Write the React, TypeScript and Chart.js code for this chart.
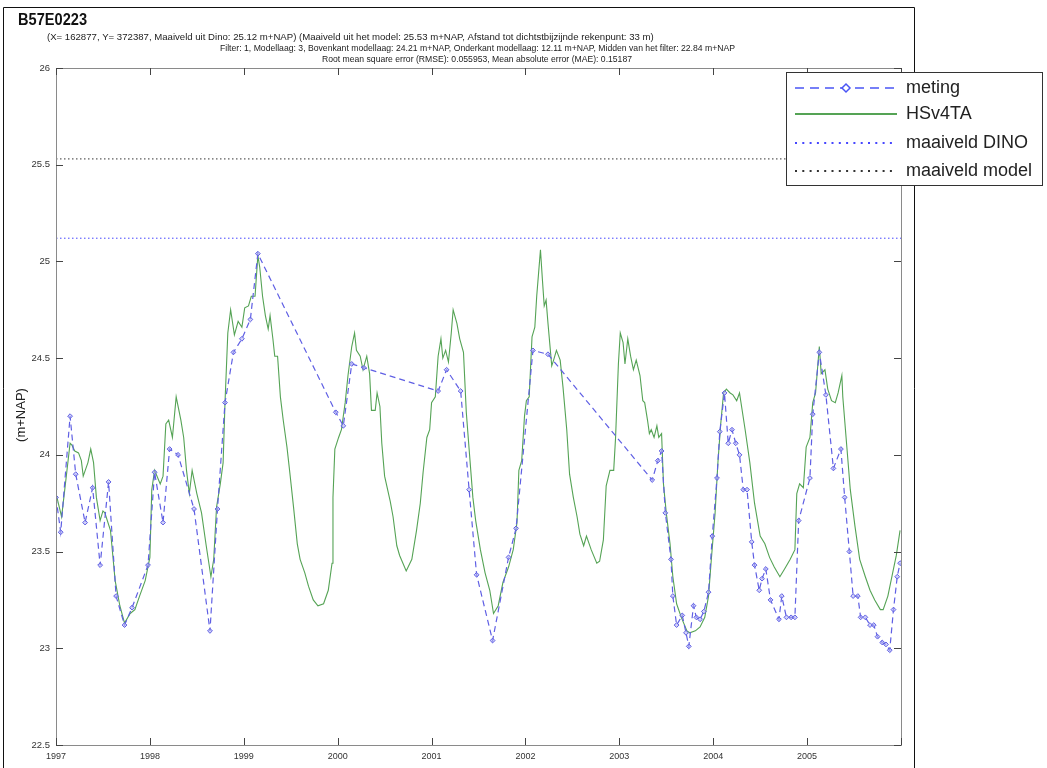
import React, { useEffect, useRef } from 'react';
import { Chart, registerables } from 'chart.js';

Chart.register(...registerables);

// ---------- data ----------
const titleMain = 'B57E0223';
const subtitleLines = [
  '(X= 162877, Y= 372387, Maaiveld uit Dino: 25.12 m+NAP) (Maaiveld uit het model: 25.53 m+NAP, Afstand tot dichtstbijzijnde rekenpunt: 33 m)',
  'Filter: 1, Modellaag: 3, Bovenkant modellaag: 24.21 m+NAP, Onderkant modellaag: 12.11 m+NAP, Midden van het filter: 22.84 m+NAP',
  'Root mean square error (RMSE): 0.055953, Mean absolute error (MAE): 0.15187',
];
const yAxisLabel = '(m+NAP)';
const legendLabels = ['meting', 'HSv4TA', 'maaiveld DINO', 'maaiveld model'];

const xTickYears = [1997, 1998, 1999, 2000, 2001, 2002, 2003, 2004, 2005];
const yTickValues = [22.5, 23, 23.5, 24, 24.5, 25, 25.5, 26];

const maaiveldDino = 25.12;
const maaiveldModel = 25.53;

const meetYears = [
  1997.0, 1997.05, 1997.15, 1997.21, 1997.31, 1997.39, 1997.47, 1997.56, 1997.64, 1997.73,
  1997.81, 1997.98, 1998.05, 1998.14, 1998.21, 1998.3, 1998.47, 1998.64, 1998.72, 1998.8,
  1998.89, 1998.98, 1999.07, 1999.15, 1999.98, 2000.06, 2000.15, 2000.28, 2001.07, 2001.16,
  2001.31, 2001.4, 2001.48, 2001.65, 2001.82, 2001.9, 2002.08, 2002.24, 2003.35, 2003.41,
  2003.45, 2003.49, 2003.55, 2003.57, 2003.61, 2003.67, 2003.71, 2003.74, 2003.79, 2003.82,
  2003.86, 2003.9, 2003.95, 2003.99, 2004.04, 2004.07, 2004.12, 2004.16, 2004.2, 2004.24,
  2004.28, 2004.32, 2004.36, 2004.41, 2004.44, 2004.49, 2004.52, 2004.56, 2004.61, 2004.7,
  2004.73, 2004.78, 2004.83, 2004.87, 2004.91, 2005.03, 2005.06, 2005.13, 2005.2, 2005.28,
  2005.36, 2005.4, 2005.45, 2005.49, 2005.54, 2005.57, 2005.62, 2005.67, 2005.71, 2005.75,
  2005.8, 2005.84, 2005.88, 2005.92, 2005.96, 2005.99,
];
const meetValues = [
  23.78, 23.6, 24.2, 23.9, 23.65, 23.83, 23.43, 23.86, 23.27, 23.12,
  23.21, 23.43, 23.91, 23.65, 24.03, 24.0, 23.72, 23.09, 23.72, 24.27,
  24.53, 24.6, 24.7, 25.04, 24.22, 24.15, 24.47, 24.45, 24.33, 24.44,
  24.33, 23.82, 23.38, 23.04, 23.47, 23.62, 24.54, 24.52, 23.87, 23.97,
  24.02, 23.7, 23.46, 23.27, 23.12, 23.17, 23.08, 23.01, 23.22, 23.16,
  23.15, 23.19, 23.29, 23.58, 23.88, 24.12, 24.32, 24.06, 24.13, 24.06,
  24.0, 23.82, 23.82, 23.55, 23.43, 23.3, 23.36, 23.41, 23.25, 23.15,
  23.27, 23.16, 23.16, 23.16, 23.66, 23.88, 24.21, 24.53, 24.31, 23.93,
  24.03, 23.78, 23.5, 23.27, 23.27, 23.16, 23.16, 23.12, 23.12, 23.06,
  23.03, 23.02, 22.99, 23.2, 23.37, 23.44,
];

const modelYears = [
  1997.0, 1997.04, 1997.06, 1997.15, 1997.17, 1997.2, 1997.24, 1997.27, 1997.29, 1997.34,
  1997.37, 1997.4, 1997.43, 1997.47, 1997.5, 1997.52, 1997.58, 1997.63, 1997.68, 1997.73,
  1997.79, 1997.84, 1997.89, 1997.95, 1998.0, 1998.02, 1998.05, 1998.11, 1998.14, 1998.17,
  1998.2, 1998.24, 1998.28, 1998.33, 1998.36, 1998.39, 1998.42, 1998.45, 1998.5, 1998.55,
  1998.6, 1998.65, 1998.68, 1998.71, 1998.75, 1998.78, 1998.8, 1998.83, 1998.86, 1998.9,
  1998.94, 1998.98, 1999.01, 1999.05, 1999.08, 1999.12, 1999.15, 1999.17, 1999.2, 1999.23,
  1999.26, 1999.28, 1999.31, 1999.33, 1999.36, 1999.39, 1999.42, 1999.46, 1999.49, 1999.53,
  1999.57, 1999.6, 1999.65, 1999.69, 1999.74, 1999.79, 1999.85, 1999.9, 1999.94, 1999.95,
  1999.97, 2000.01, 2000.04, 2000.08, 2000.11, 2000.15, 2000.18, 2000.2, 2000.24, 2000.27,
  2000.31, 2000.34, 2000.36, 2000.4, 2000.42, 2000.45, 2000.47, 2000.5, 2000.56, 2000.59,
  2000.63, 2000.66, 2000.73, 2000.79, 2000.84, 2000.88, 2000.91, 2000.95, 2000.98, 2001.0,
  2001.04, 2001.07, 2001.1, 2001.12, 2001.15, 2001.18, 2001.21, 2001.23, 2001.27, 2001.3,
  2001.34, 2001.37, 2001.4, 2001.44, 2001.47, 2001.52, 2001.57, 2001.62, 2001.66, 2001.71,
  2001.76, 2001.82, 2001.87, 2001.91, 2001.93, 2001.96, 2001.99, 2002.01, 2002.04, 2002.07,
  2002.1, 2002.12, 2002.14, 2002.16, 2002.18, 2002.2, 2002.22, 2002.24, 2002.28, 2002.3,
  2002.33, 2002.37, 2002.4, 2002.44, 2002.47, 2002.51, 2002.55, 2002.58, 2002.62, 2002.65,
  2002.7, 2002.76, 2002.79, 2002.83, 2002.86, 2002.9, 2002.94, 2002.96, 2002.99, 2003.01,
  2003.04, 2003.06, 2003.09, 2003.12, 2003.15, 2003.18, 2003.22, 2003.25, 2003.27, 2003.3,
  2003.32, 2003.34, 2003.37, 2003.4, 2003.42, 2003.45, 2003.47, 2003.5, 2003.54, 2003.57,
  2003.61, 2003.66, 2003.72, 2003.75, 2003.81, 2003.86, 2003.91, 2003.95, 2003.98, 2004.02,
  2004.05, 2004.08, 2004.11, 2004.14, 2004.18, 2004.21, 2004.25, 2004.28, 2004.34, 2004.39,
  2004.44, 2004.5, 2004.55, 2004.6, 2004.65, 2004.71, 2004.76, 2004.82, 2004.87, 2004.89,
  2004.92, 2004.96, 2004.99, 2005.03, 2005.06, 2005.09, 2005.11, 2005.13, 2005.15, 2005.19,
  2005.22, 2005.26, 2005.3, 2005.33, 2005.37, 2005.38, 2005.42, 2005.46, 2005.51, 2005.56,
  2005.62, 2005.67, 2005.72, 2005.78, 2005.81, 2005.86, 2005.92, 2005.95, 2005.99,
];
const modelValues = [
  23.8, 23.72, 23.68, 24.06, 24.05, 24.02, 24.01, 23.97, 23.89, 23.96,
  24.03, 23.96, 23.78, 23.66, 23.71, 23.7, 23.61, 23.35, 23.22, 23.13,
  23.18, 23.2, 23.27, 23.35, 23.47, 23.82, 23.92, 23.85, 23.89, 24.16,
  24.18, 24.09, 24.3, 24.18, 24.09, 23.92, 23.8, 23.92, 23.8, 23.7,
  23.53, 23.37, 23.46, 23.73, 23.85, 23.96, 24.27, 24.63, 24.75, 24.62,
  24.69, 24.66, 24.76, 24.77, 24.82, 24.82, 25.03, 24.97, 24.82, 24.72,
  24.65, 24.72, 24.6, 24.51, 24.51, 24.3, 24.18, 24.04, 23.91, 23.73,
  23.54, 23.46, 23.39, 23.32, 23.25, 23.22, 23.23, 23.3, 23.44, 23.78,
  24.03, 24.09, 24.13, 24.27, 24.41, 24.56, 24.63, 24.54, 24.51, 24.44,
  24.51, 24.42, 24.23, 24.23, 24.32, 24.25, 24.06, 23.89, 23.76, 23.68,
  23.53, 23.48, 23.4, 23.46, 23.61, 23.75, 23.91, 24.09, 24.13, 24.27,
  24.3, 24.51, 24.6, 24.5, 24.54, 24.48, 24.63, 24.75, 24.68, 24.6,
  24.53, 24.22, 24.03, 23.78, 23.66, 23.51, 23.39, 23.3, 23.18, 23.22,
  23.34, 23.42, 23.51, 23.65, 23.92, 23.97, 24.2, 24.28, 24.3, 24.61,
  24.66, 24.82, 24.94, 25.06, 24.91, 24.77, 24.8, 24.68, 24.46, 24.49,
  24.54, 24.49, 24.35, 24.13, 23.9, 23.78, 23.68, 23.59, 23.53, 23.58,
  23.51, 23.44, 23.45, 23.56, 23.84, 23.92, 23.92, 24.09, 24.47, 24.63,
  24.58, 24.47, 24.6, 24.51, 24.44, 24.49, 24.41, 24.28, 24.27, 24.18,
  24.11, 24.13, 24.09, 24.15, 24.09, 24.11, 23.85, 23.7, 23.54, 23.37,
  23.23, 23.16, 23.09, 23.08, 23.09, 23.11, 23.16, 23.27, 23.46, 23.7,
  23.96, 24.16, 24.32, 24.34, 24.32, 24.31, 24.28, 24.32, 24.13, 23.96,
  23.75, 23.58, 23.54, 23.47, 23.42, 23.37, 23.41, 23.46, 23.51, 23.8,
  23.85, 23.83, 24.04, 24.09, 24.27, 24.32, 24.44, 24.56, 24.42, 24.44,
  24.34, 24.28, 24.27, 24.32, 24.41, 24.3, 24.06, 23.82, 23.63, 23.46,
  23.37, 23.3, 23.25, 23.2, 23.2, 23.27, 23.41, 23.48, 23.61,
];

// ---------- styles ----------
const FONT = '"Liberation Sans", Arial, sans-serif';
const MEET_COLOR = '#5f5fe4';
const MODEL_COLOR = '#55a355';
const DINO_COLOR = '#4646ff';
const MV_MODEL_COLOR = '#333333';

const decorPlugin = {
  id: 'decor',
  beforeDraw(chart: any) {
    const ctx = chart.ctx;
    ctx.save();
    ctx.fillStyle = '#ffffff';
    ctx.fillRect(0, 0, chart.width, chart.height);
    ctx.restore();
  },
  afterDraw(chart: any) {
    const ctx: CanvasRenderingContext2D = chart.ctx;
    const { left, right, top, bottom } = chart.chartArea;
    const xs = chart.scales.x;
    const ys = chart.scales.y;
    ctx.save();

    // figure frame
    ctx.strokeStyle = '#111';
    ctx.lineWidth = 1;
    ctx.beginPath();
    ctx.moveTo(3.5, 780);
    ctx.lineTo(3.5, 7.5);
    ctx.lineTo(914.5, 7.5);
    ctx.lineTo(914.5, 780);
    ctx.stroke();

    // axes box
    ctx.strokeStyle = '#8a8a8a';
    ctx.strokeRect(Math.round(left) + 0.5, Math.round(top) + 0.5, Math.round(right - left), Math.round(bottom - top));

    // inward ticks
    ctx.strokeStyle = '#444';
    ctx.beginPath();
    xs.ticks.forEach((t: any) => {
      const px = Math.round(xs.getPixelForValue(t.value)) + 0.5;
      ctx.moveTo(px, bottom); ctx.lineTo(px, bottom - 7);
      ctx.moveTo(px, top); ctx.lineTo(px, top + 7);
    });
    ys.ticks.forEach((t: any) => {
      const py = Math.round(ys.getPixelForValue(t.value)) + 0.5;
      ctx.moveTo(left, py); ctx.lineTo(left + 7, py);
      ctx.moveTo(right, py); ctx.lineTo(right - 7, py);
    });
    ctx.stroke();

    // titles
    ctx.fillStyle = '#111';
    ctx.textBaseline = 'alphabetic';
    ctx.textAlign = 'left';
    ctx.font = `bold 17px ${FONT}`;
    ctx.fillText(titleMain, 18, 25, 69);
    ctx.font = `9.6px ${FONT}`;
    ctx.fillStyle = '#222';
    ctx.fillText(subtitleLines[0], 47, 40, 611);
    ctx.fillText(subtitleLines[1], 220, 51, 515);
    ctx.fillText(subtitleLines[2], 322, 62, 310);

    // y axis label
    ctx.save();
    ctx.translate(21, 415);
    ctx.rotate(-Math.PI / 2);
    ctx.textAlign = 'center';
    ctx.textBaseline = 'middle';
    ctx.font = `13px ${FONT}`;
    ctx.fillStyle = '#222';
    ctx.fillText(yAxisLabel, 0, 0);
    ctx.restore();

    // legend
    const lx = 786.5, ly = 72.5, lw = 256, lh = 113;
    ctx.fillStyle = '#fff';
    ctx.fillRect(lx, ly, lw, lh);
    ctx.strokeStyle = '#333';
    ctx.lineWidth = 1;
    ctx.strokeRect(lx, ly, lw, lh);
    const rows = [88, 114, 143, 171];
    const x0 = 795, x1 = 897;
    // meting
    ctx.strokeStyle = '#4a55f5';
    ctx.lineWidth = 1.5;
    ctx.setLineDash([9, 6]);
    ctx.beginPath(); ctx.moveTo(x0, rows[0]); ctx.lineTo(x1, rows[0]); ctx.stroke();
    ctx.setLineDash([]);
    ctx.beginPath();
    const mx = 846, my = rows[0];
    ctx.moveTo(mx, my - 4); ctx.lineTo(mx + 4, my); ctx.lineTo(mx, my + 4); ctx.lineTo(mx - 4, my); ctx.closePath();
    ctx.fillStyle = '#fff'; ctx.fill(); ctx.stroke();
    // HSv4TA
    ctx.strokeStyle = MODEL_COLOR;
    ctx.lineWidth = 2;
    ctx.beginPath(); ctx.moveTo(x0, rows[1]); ctx.lineTo(x1, rows[1]); ctx.stroke();
    // dotted
    ctx.lineWidth = 2;
    ctx.setLineDash([2, 5.3]);
    ctx.strokeStyle = DINO_COLOR;
    ctx.beginPath(); ctx.moveTo(x0, rows[2]); ctx.lineTo(x1, rows[2]); ctx.stroke();
    ctx.strokeStyle = MV_MODEL_COLOR;
    ctx.beginPath(); ctx.moveTo(x0, rows[3]); ctx.lineTo(x1, rows[3]); ctx.stroke();
    ctx.setLineDash([]);
    ctx.fillStyle = '#222';
    ctx.font = `18px ${FONT}`;
    ctx.textAlign = 'left';
    ctx.textBaseline = 'middle';
    legendLabels.forEach((lab, i) => ctx.fillText(lab, 906, rows[i], 134));

    ctx.restore();
  },
};

export default function App() {
  const canvasRef = useRef<HTMLCanvasElement | null>(null);

  useEffect(() => {
    if (!canvasRef.current) return;
    const meetData = meetYears.map((x, i) => ({ x, y: meetValues[i] }));
    const modelData = modelYears.map((x, i) => ({ x, y: modelValues[i] }));
    const xMin = xTickYears[0];
    const xMax = xTickYears[xTickYears.length - 1] + 1;
    const chart = new Chart(canvasRef.current, {
      type: 'line',
      data: {
        datasets: [
          {
            label: legendLabels[0],
            data: meetData,
            borderColor: MEET_COLOR,
            borderWidth: 1.2,
            borderDash: [6, 4],
            pointStyle: 'rectRot',
            pointRadius: 2.4,
            pointBorderColor: MEET_COLOR,
            pointBackgroundColor: 'rgba(180,180,245,0.6)',
            pointBorderWidth: 1,
            order: 0,
          },
          {
            label: legendLabels[1],
            data: modelData,
            borderColor: MODEL_COLOR,
            borderWidth: 1.1,
            pointRadius: 0,
            order: 1,
          },
          {
            label: legendLabels[2],
            data: [{ x: xMin, y: maaiveldDino }, { x: xMax, y: maaiveldDino }],
            borderColor: DINO_COLOR,
            borderWidth: 1,
            borderDash: [1.5, 2.5],
            pointRadius: 0,
            order: 2,
          },
          {
            label: legendLabels[3],
            data: [{ x: xMin, y: maaiveldModel }, { x: xMax, y: maaiveldModel }],
            borderColor: MV_MODEL_COLOR,
            borderWidth: 1,
            borderDash: [1.5, 2.5],
            pointRadius: 0,
            order: 3,
          },
        ],
      },
      options: {
        responsive: false,
        animation: false,
        events: [],
        layout: { padding: { left: 0, right: 146, top: 68, bottom: 0 } },
        plugins: {
          legend: { display: false },
          tooltip: { enabled: false },
          title: { display: false },
        },
        scales: {
          x: {
            type: 'linear',
            min: xMin,
            max: xMax,
            grid: { display: false, drawTicks: false },
            border: { display: false },
            ticks: {
              stepSize: 1,
              padding: 6,
              color: '#333',
              font: { family: FONT, size: 9 },
              maxRotation: 0,
              autoSkip: false,
              callback: (v: any) => (xTickYears.includes(Number(v)) ? String(v) : ''),
            },
            afterFit: (s: any) => { s.height = 23; },
          },
          y: {
            type: 'linear',
            min: yTickValues[0],
            max: yTickValues[yTickValues.length - 1],
            grid: { display: false, drawTicks: false },
            border: { display: false },
            ticks: {
              stepSize: 0.5,
              padding: 6,
              color: '#333',
              font: { family: FONT, size: 9.5 },
              callback: (v: any) => (yTickValues.includes(Number(v)) ? String(v) : ''),
            },
            afterFit: (s: any) => { s.width = 56; },
          },
        },
      },
      plugins: [decorPlugin],
    } as any);
    return () => chart.destroy();
  }, []);

  return (
    <div style={{ position: 'absolute', left: 0, top: 0, width: 1047, height: 768, background: '#fff' }}>
      <canvas ref={canvasRef} width={1047} height={768} style={{ display: 'block' }} />
    </div>
  );
}
